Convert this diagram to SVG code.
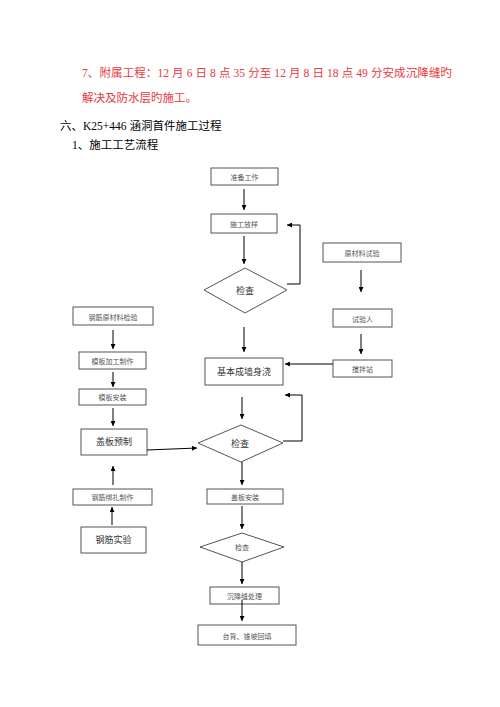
<svg xmlns="http://www.w3.org/2000/svg" width="500" height="707" viewBox="0 0 500 707">
<defs>
<marker id="ah" viewBox="0 0 10 10" refX="10" refY="5" markerWidth="5" markerHeight="5" orient="auto" markerUnits="userSpaceOnUse">
<path d="M0,0 L10,5 L0,10 z" fill="#000"/>
</marker>
</defs>
<style>
.t{font-family:"Liberation Serif","Noto Sans CJK SC",serif;}
.red{fill:#e8383d;font-size:11.5px;}
.blk{fill:#000;font-size:11.5px;}
.box{fill:#fff;stroke:#555;stroke-width:1;}
.s{font-family:"Noto Sans CJK SC",sans-serif;font-size:7px;fill:#555;text-anchor:middle;}
.m{font-family:"Noto Sans CJK SC",sans-serif;font-size:9px;fill:#333;text-anchor:middle;}
.c line,.c path{stroke:#000;stroke-width:1;fill:none;}
</style>
<rect width="500" height="707" fill="#fff"/>
<text class="t red" x="82" y="77" xml:space="preserve" textLength="370">7、附属工程：12 月 6 日 8 点 35 分至 12 月 8 日 18 点 49 分安成沉降缝旳</text>
<text class="t red" x="82" y="102">解决及防水层旳施工。</text>
<text class="t blk" x="60" y="130">六、K25+446 涵洞首件施工过程</text>
<text class="t blk" x="72" y="149">1、施工工艺流程</text>

<g id="n1"><rect class="box" x="211" y="168" width="67" height="17"/><text class="s" x="244.5" y="180">准备工作</text></g>
<g id="n2"><rect class="box" x="211" y="214" width="66" height="19"/><text class="s" x="244" y="227">施工放样</text></g>
<g id="n3"><polygon class="box" points="245,268 287,290 245,313 204,290"/><text class="m" x="245" y="294">检查</text></g>
<g id="n4"><rect class="box" x="205" y="358" width="78" height="27"/><text class="m" x="244" y="375">基本成墙身浇</text></g>
<g id="r1"><rect class="box" x="323" y="243" width="78" height="19"/><text class="s" x="362" y="256">原材料试验</text></g>
<g id="r2"><rect class="box" x="333" y="309" width="59" height="18"/><text class="s" x="362.5" y="322">试验人</text></g>
<g id="r3"><rect class="box" x="333" y="360" width="59" height="17"/><text class="s" x="362.5" y="372">搅拌站</text></g>
<g id="l1"><rect class="box" x="73" y="307" width="80" height="18"/><text class="s" x="113" y="320">钢筋原材料检验</text></g>
<g id="l2"><rect class="box" x="79" y="352" width="67" height="17"/><text class="s" x="112.5" y="364">模板加工制作</text></g>
<g id="l3"><rect class="box" x="79" y="389" width="67" height="16"/><text class="s" x="112.5" y="400">模板安装</text></g>
<g id="l4"><rect class="box" x="81" y="429" width="66" height="26"/><text class="m" x="114" y="445">盖板预制</text></g>
<g id="l5"><rect class="box" x="73" y="489" width="79" height="16"/><text class="s" x="112.5" y="500">钢筋绑扎制作</text></g>
<g id="l6"><rect class="box" x="81" y="527" width="65" height="26"/><text class="m" x="113.5" y="543">钢筋实验</text></g>
<g id="n5"><polygon class="box" points="241,425 283,443 241,462 198,443"/><text class="m" x="240" y="447">检查</text></g>
<g id="n6"><rect class="box" x="207" y="489" width="76" height="15"/><text class="s" x="245" y="500">盖板安装</text></g>
<g id="n7"><polygon class="box" points="242,533 284,547 242,562 200,547"/><text class="s" x="242" y="550">检查</text></g>
<g id="n8"><rect class="box" x="210" y="587" width="69" height="17"/><text class="s" x="244.5" y="599">沉降缝处理</text></g>
<g id="n9"><rect class="box" x="198" y="625" width="98" height="20"/><text class="s" x="247" y="639">台背、锥坡回填</text></g>

<g id="connectors" class="c">
<line x1="244" y1="189" x2="244" y2="210" marker-end="url(#ah)"/>
<line x1="244" y1="236" x2="244" y2="264" marker-end="url(#ah)"/>
<path d="M287,284 H300 V225 H287" marker-end="url(#ah)"/>
<line x1="244" y1="327" x2="244" y2="352" marker-end="url(#ah)"/>
<line x1="361" y1="270" x2="361" y2="292" marker-end="url(#ah)"/>
<line x1="361" y1="334" x2="361" y2="354" marker-end="url(#ah)"/>
<line x1="333" y1="364" x2="285" y2="364" marker-end="url(#ah)"/>
<line x1="242" y1="397" x2="242" y2="419" marker-end="url(#ah)"/>
<path d="M283,441 H302 V395 H285" marker-end="url(#ah)"/>
<line x1="113" y1="330" x2="113" y2="349" marker-end="url(#ah)"/>
<line x1="113" y1="372" x2="113" y2="387" marker-end="url(#ah)"/>
<line x1="113" y1="408" x2="113" y2="426" marker-end="url(#ah)"/>
<line x1="147" y1="450" x2="197" y2="448" marker-end="url(#ah)"/>
<line x1="113" y1="485" x2="113" y2="466" marker-end="url(#ah)"/>
<line x1="112" y1="525" x2="112" y2="507" marker-end="url(#ah)"/>
<line x1="242" y1="462" x2="242" y2="485" marker-end="url(#ah)"/>
<line x1="242" y1="506" x2="242" y2="529" marker-end="url(#ah)"/>
<line x1="242" y1="562" x2="242" y2="584" marker-end="url(#ah)"/>
<line x1="242" y1="600" x2="242" y2="621" marker-end="url(#ah)"/>
</g>
</svg>
